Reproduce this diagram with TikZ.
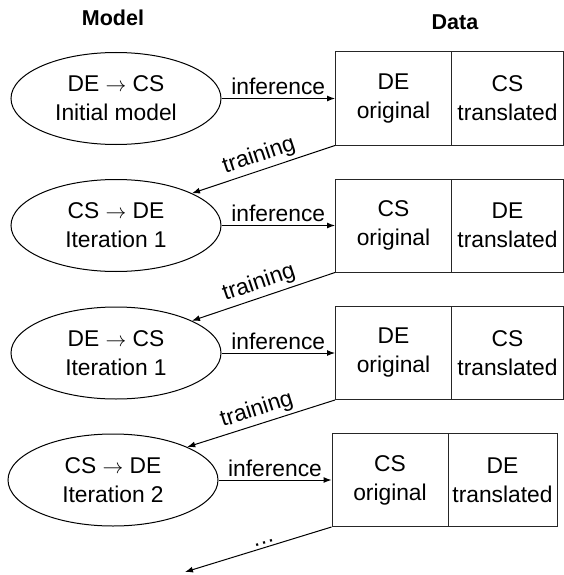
\documentclass[tikz,border=0pt]{standalone}
\usepackage{fontspec}
\setmainfont{Liberation Sans}
\usetikzlibrary{shapes.geometric,arrows.meta}
\begin{document}
\begin{tikzpicture}[x=1pt,y=-1pt,
  every node/.style={font=\fontsize{22.8}{29}\selectfont},
  title/.style={font=\fontsize{21.5}{25}\selectfont\bfseries},
  model/.style={ellipse,draw=black,line width=1pt,minimum width=210pt,minimum height=92pt,inner sep=0pt,align=center},
  cell/.style={rectangle,draw=black!85,line width=1pt,minimum height=93pt,inner sep=0pt,align=center},
  conn/.style={line width=1pt,-{Latex[length=8pt,width=6pt]}},
  lbl/.style={inner sep=3pt}
]
\useasboundingbox (0,0) rectangle (564,575);
\node[title] (tmodel) at (113,18) {Model};
\node[title] (tdata) at (455,22) {Data};

% row 1
\node[model] (e1) at (116,98.5) {DE $\rightarrow$ CS\\Initial model};
\node[cell,minimum width=116pt] (b1l) at (393.5,98.5) {DE\\original};
\node[cell,minimum width=112pt] (b1r) at (507.5,98.5) {CS\\translated};
% row 2
\node[model] (e2) at (116,225.5) {CS $\rightarrow$ DE\\Iteration 1};
\node[cell,minimum width=116pt] (b2l) at (393.5,225.5) {CS\\original};
\node[cell,minimum width=112pt] (b2r) at (507.5,225.5) {DE\\translated};
% row 3
\node[model] (e3) at (116,353) {DE $\rightarrow$ CS\\Iteration 1};
\node[cell,minimum width=116pt] (b3l) at (393.5,353) {DE\\original};
\node[cell,minimum width=112pt] (b3r) at (507.5,353) {CS\\translated};
% row 4
\node[model] (e4) at (113,480) {CS $\rightarrow$ DE\\Iteration 2};
\node[cell,minimum width=116pt] (b4l) at (390,480) {CS\\original};
\node[cell,minimum width=109pt] (b4r) at (502.5,480) {DE\\translated};

\coordinate (end) at (185,572);

\draw[conn] (e1.east) -- node[lbl,above] {inference} (b1l.west);
\draw[conn] (e2.east) -- node[lbl,above] {inference} (b2l.west);
\draw[conn] (e3.east) -- node[lbl,above] {inference} (b3l.west);
\draw[conn] (e4.east) -- node[lbl,above] {inference} (b4l.west);

\draw[conn] (b1l.south west) -- node[lbl,sloped,above] {training} (e2.23);
\draw[conn] (b2l.south west) -- node[lbl,sloped,above] {training} (e3.23);
\draw[conn] (b3l.south west) -- node[lbl,sloped,above] {training} (e4.24);
\draw[conn] (b4l.south west) -- node[lbl,sloped,above,pos=0.45] {…} (end);
\end{tikzpicture}
\end{document}
